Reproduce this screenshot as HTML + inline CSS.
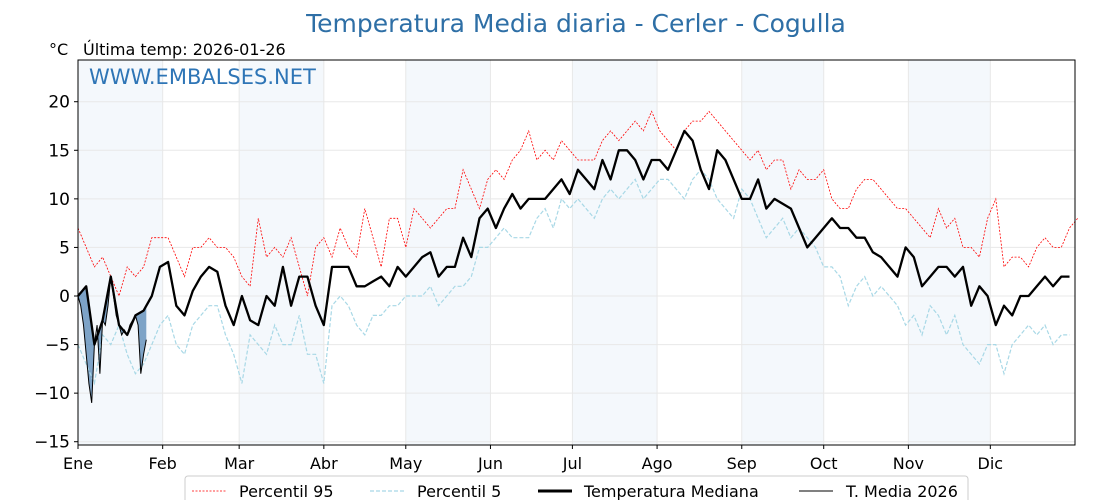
<!DOCTYPE html>
<html><head><meta charset="utf-8">
<style>
html,body{margin:0;padding:0;background:#fff;}
svg{display:block;font-family:"DejaVu Sans","Liberation Sans",sans-serif;}
</style></head>
<body>
<svg id="chart" width="1120" height="500" viewBox="0 0 1120 500">
  <text x="576" y="32" text-anchor="middle" font-size="25" fill="#2e6fa6">Temperatura Media diaria - Cerler - Cogulla</text>
  <text x="49" y="55" font-size="16" fill="#000">°C</text>
  <text x="83" y="55" font-size="16" fill="#000">Última temp: 2026-01-26</text>
  <g id="bands"></g>
  <g id="grid"></g>
  <g id="series"></g>
  <rect x="78" y="60" width="997" height="385" fill="none" stroke="#000" stroke-width="1"/>
  <text x="89" y="84" font-size="21" fill="#2e75b6">WWW.EMBALSES.NET</text>
  <g id="axes"></g>
  <g>
    <rect x="185" y="476" width="783" height="30" rx="3" fill="#fff" stroke="#ccc"/>
    <line x1="192" y1="491" x2="226" y2="491" stroke="red" stroke-width="0.8" stroke-dasharray="2,1.5"/>
    <text x="239" y="497" font-size="16">Percentil 95</text>
    <line x1="370" y1="491" x2="404" y2="491" stroke="#a8d8e6" stroke-width="1.2" stroke-dasharray="4,2"/>
    <text x="417" y="497" font-size="16">Percentil 5</text>
    <line x1="538" y1="491" x2="572" y2="491" stroke="#000" stroke-width="3"/>
    <text x="584" y="497" font-size="16">Temperatura Mediana</text>
    <line x1="799" y1="491" x2="833" y2="491" stroke="#000" stroke-width="1"/>
    <text x="846" y="497" font-size="16">T. Media 2026</text>
  </g>
</svg>
<script>
const months = ["Ene","Feb","Mar","Abr","May","Jun","Jul","Ago","Sep","Oct","Nov","Dic"];
const monthStartDays = [0,31,59,90,120,151,181,212,243,273,304,334];
const yTicks = [-15,-10,-5,0,5,10,15,20];
const sampleStep = 3;
const median = [0,1,-5,-2.5,2,-3,-4,-2,-1.5,0,3,3.5,-1,-2,0.5,2,3,2.5,-1,-3,0,-2.5,-3,0,-1,3,-1,2,2,-1,-3,3,3,3,1,1,1.5,2,1,3,2,3,4,4.5,2,3,3,6,4,8,9,7,9,10.5,9,10,10,10,11,12,10.5,13,12,11,14,12,15,15,14,12,14,14,13,15,17,16,13,11,15,14,12,10,10,12,9,10,9.5,9,7,5,6,7,8,7,7,6,6,4.5,4,3,2,5,4,1,2,3,3,2,3,-1,1,0,-3,-1,-2,0,0,1,2,1,2,2];
const p95 = [7,5,3,4,2,0,3,2,3,6,6,6,4,2,5,5,6,5,5,4,2,1,8,4,5,4,6,3,0,5,6,4,7,5,4,9,6,3,8,8,5,9,8,7,8,9,9,13,11,9,12,13,12,14,15,17,14,15,14,16,15,14,14,14,16,17,16,17,18,17,19,17,16,15,17,18,18,19,18,17,16,15,14,15,13,14,14,11,13,12,12,13,10,9,9,11,12,12,11,10,9,9,8,7,6,9,7,8,5,5,4,8,10,3,4,4,3,5,6,5,5,7,8];
const p5 = [-5,-7,-9,-4,-5,-3,-6,-8,-7,-5,-3,-2,-5,-6,-3,-2,-1,-1,-4,-6,-9,-4,-5,-6,-3,-5,-5,-2,-6,-6,-9,-1,0,-1,-3,-4,-2,-2,-1,-1,0,0,0,1,-1,0,1,1,2,5,5,6,7,6,6,6,8,9,7,10,9,10,9,8,10,11,10,11,12,10,11,12,12,11,10,12,13,12,10,9,8,11,10,8,6,7,8,6,7,6,5,3,3,2,-1,1,2,0,1,0,-1,-3,-2,-4,-1,-2,-4,-2,-5,-6,-7,-5,-5,-8,-5,-4,-3,-4,-3,-5,-4,-4];
const temp2026 = [0,-1,-3,-6,-9,-11,-5,-3,-8,-2.5,-3,-1,2,0,-2,-3,-4,-3.5,-4,-3,-2.5,-2,-3,-8,-6,-4.5];

const NS="http://www.w3.org/2000/svg";
const X0=78,X1=1075,Y0=60,Y1=445;
function xs(d){return X0+d*(X1-X0)/365;}
function ys(v){return 296 - v*(340/35);}
function mk(tag,attrs,parent){const e=document.createElementNS(NS,tag);for(const k in attrs)e.setAttribute(k,attrs[k]);parent.appendChild(e);return e;}

const bands=document.getElementById('bands');
for(let m=0;m<12;m+=2){
  const a=xs(monthStartDays[m]), b=xs(m+1<12?monthStartDays[m+1]:365);
  const r=mk('rect',{x:a,y:Y0,width:b-a,height:Y1-Y0,fill:'#f4f8fc'},bands);
  
  
}
const grid=document.getElementById('grid');
yTicks.forEach(t=>{
  const l=mk('line',{x1:X0,x2:X1,y1:ys(t),y2:ys(t),stroke:'#e8e8e8','stroke-width':1},grid);
  
  
});
monthStartDays.forEach(d=>{
  const l=mk('line',{x1:xs(d),x2:xs(d),y1:Y0,y2:Y1,stroke:'#e8e8e8','stroke-width':1},grid);
  
  
});

const series=document.getElementById('series');
function pts(arr,step){return arr.map((v,i)=>xs(i*step).toFixed(1)+','+ys(v).toFixed(1)).join(' ');}
function medAt(d){const i=Math.min(Math.floor(d/sampleStep),median.length-2);const f=(d-i*sampleStep)/sampleStep;return median[i]+(median[i+1]-median[i])*f;}

let poly=[];
temp2026.forEach((v,d)=>poly.push(xs(d).toFixed(1)+','+ys(Math.min(v,medAt(d))).toFixed(1)));
for(let d=temp2026.length-1;d>=0;d--)poly.push(xs(d).toFixed(1)+','+ys(medAt(d)).toFixed(1));
const fill=mk('polygon',{points:poly.join(' '),fill:'#4a7fb0','fill-opacity':0.7},series);



const lp95=mk('polyline',{points:pts(p95,sampleStep),fill:'none',stroke:'red','stroke-width':0.8,'stroke-dasharray':'2,1.5'},series);


const lp5=mk('polyline',{points:pts(p5,sampleStep),fill:'none',stroke:'#a8d8e6','stroke-width':1.2,'stroke-dasharray':'4,2'},series);


const lmed=mk('polyline',{points:pts(median,sampleStep),fill:'none',stroke:'#000','stroke-width':2.3,'stroke-linejoin':'round'},series);


const l26=mk('polyline',{points:pts(temp2026,1),fill:'none',stroke:'#000','stroke-width':1},series);



const axes=document.getElementById('axes');
yTicks.forEach(t=>{
  const tk=mk('line',{x1:X0-4,x2:X0,y1:ys(t),y2:ys(t),stroke:'#000'},axes);
  
  
  const tx=mk('text',{x:X0-8,y:ys(t)+6,'text-anchor':'end','font-size':17},axes);
  tx.textContent=(t<0?'\u2212'+(-t):t);
  
  
});
monthStartDays.forEach((d,i)=>{
  const tk=mk('line',{x1:xs(d),x2:xs(d),y1:Y1,y2:Y1+4,stroke:'#000'},axes);
  
  
  const tx=mk('text',{x:xs(d),y:Y1+24,'text-anchor':'middle','font-size':16},axes);
  tx.textContent=months[i];
  
  
});
</script>
</body></html>
